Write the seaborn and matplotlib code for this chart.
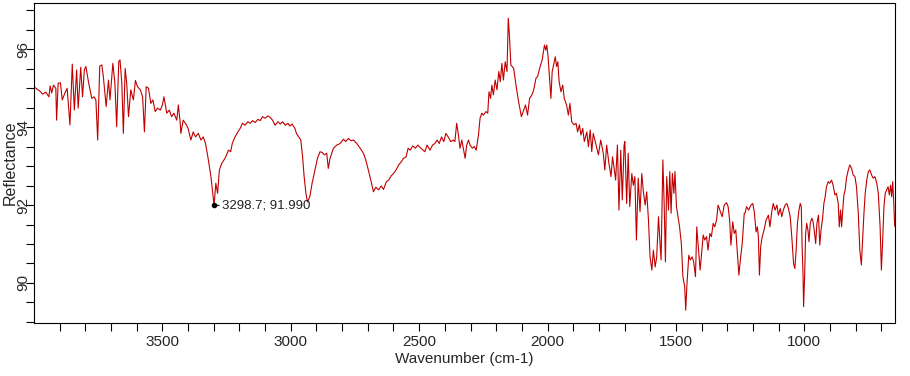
import matplotlib
matplotlib.use('Agg')
import matplotlib.pyplot as plt
import seaborn as sns
import pandas as pd
from matplotlib.ticker import MultipleLocator, FixedLocator

# IR spectrum, values

wavenumber = [
    3997, 3978, 3966, 3954, 3942, 3937, 3931, 3924, 3915, 3912, 3906, 3897, 3890, 3880, 3871, 3860,
    3851, 3843, 3834, 3828, 3818, 3811, 3804, 3798, 3787, 3775, 3766, 3759, 3752, 3744, 3736, 3730,
    3719, 3710, 3704, 3693, 3685, 3678, 3670, 3665, 3658, 3652, 3645, 3639, 3632, 3623, 3613, 3605,
    3597, 3586, 3577, 3570, 3563, 3554, 3545, 3537, 3528, 3519, 3508, 3500, 3494, 3483, 3473, 3464,
    3455, 3444, 3438, 3431,
    3428, 3419, 3410, 3400, 3389, 3380, 3371, 3360, 3350, 3341, 3332, 3321, 3311, 3298.7, 3292, 3285,
    3278, 3269, 3260, 3253, 3243, 3234, 3228, 3217, 3206, 3197, 3188, 3178, 3167, 3158, 3149, 3139,
    3128, 3119, 3110, 3100, 3089, 3080, 3071, 3061, 3050, 3041, 3032, 3021, 3011, 3004, 2995, 2984,
    2978, 2969, 2961, 2954, 2948, 2941, 2935, 2926, 2917, 2906, 2896, 2886, 2877, 2870, 2860, 2854,
    2847, 2834, 2821, 2808, 2795, 2786, 2776, 2765, 2756, 2743, 2730, 2717, 2708, 2698, 2687, 2678,
    2669, 2658, 2648, 2639, 2628, 2619, 2609, 2600, 2590, 2580, 2570, 2561, 2551, 2543, 2535, 2525,
    2515, 2505, 2497, 2488,
    2478, 2469, 2458, 2448, 2439, 2430, 2422, 2413, 2404, 2396, 2387, 2377, 2367, 2361, 2354, 2348,
    2341, 2334, 2328, 2321, 2315, 2308, 2302, 2293, 2285, 2278, 2269, 2263, 2256, 2250, 2240, 2233,
    2228, 2222, 2217, 2211, 2204, 2197, 2190, 2184, 2178, 2172, 2165, 2158, 2153, 2148, 2143, 2132,
    2123, 2113, 2102, 2093, 2086, 2078, 2070, 2061, 2054, 2045, 2039, 2031, 2021, 2012, 2007, 2003,
    1998, 1991, 1987, 1982, 1975, 1970, 1965, 1960, 1955, 1948, 1941, 1935, 1926, 1919, 1913, 1906,
    1897, 1889, 1883, 1876, 1870, 1863, 1857, 1847, 1841, 1834, 1828, 1822, 1811, 1802,
    1793, 1783, 1777, 1770, 1761, 1753, 1747, 1740, 1735, 1728, 1722, 1715, 1709, 1702, 1699, 1692,
    1686, 1680, 1672, 1666, 1660, 1654, 1647, 1640, 1633, 1627, 1620, 1614, 1607, 1601, 1594, 1588,
    1581, 1575, 1568, 1562, 1558, 1551, 1546, 1541, 1536, 1529, 1524, 1519, 1514, 1508, 1504, 1498,
    1492, 1486, 1479, 1473, 1466, 1462, 1457, 1450, 1444, 1437, 1431, 1424, 1419, 1412, 1406, 1399,
    1394, 1388, 1381, 1375, 1368, 1362, 1355, 1349, 1342, 1336, 1329, 1320, 1312, 1303, 1297, 1291,
    1286, 1279, 1273, 1267, 1260, 1255, 1248, 1242, 1234,
    1231, 1225, 1217, 1208, 1201, 1195, 1188, 1183, 1179, 1175, 1170, 1164, 1157, 1149, 1140, 1134,
    1127, 1121, 1114, 1107, 1101, 1094, 1088, 1082, 1075, 1068, 1062, 1055, 1049, 1042, 1037, 1032,
    1027, 1021, 1016, 1012, 1009, 1005, 1003, 999, 995, 991, 986, 982, 977, 971, 966, 960,
    956, 951, 945, 940, 935, 929, 924, 919, 914, 907, 901, 894, 888, 881, 875, 868,
    864, 859, 855, 851, 846, 841, 836, 829, 823, 816, 810, 803, 797, 790, 784, 778,
    773, 768, 763, 757, 751, 745, 738, 732, 725, 718, 712, 705, 700, 695, 690, 685,
    679, 674, 669, 664, 660, 656, 652, 649, 647,
]

reflectance = [
    95.02, 94.93, 94.85, 94.90, 94.78, 95.06, 94.88, 95.08, 95.00, 94.18, 95.13, 95.14, 94.70, 94.87, 95.00, 94.06,
    95.62, 94.44, 95.47, 94.49, 95.54, 94.78, 95.47, 95.56, 95.13, 94.74, 94.78, 94.70, 93.67, 95.57, 95.60, 95.30,
    94.53, 95.21, 94.70, 95.64, 95.13, 94.01, 95.68, 95.73, 95.13, 93.84, 95.51, 95.13, 94.27, 94.96, 94.70, 95.20,
    95.04, 94.96, 94.78, 93.88, 95.04, 95.00, 94.61, 94.70, 94.40, 94.49, 94.44, 94.57, 94.78, 94.36, 94.44, 94.27,
    94.36, 94.18, 94.57, 94.14,
    93.84, 94.18, 94.10, 93.97, 93.67, 93.88, 93.75, 93.84, 93.67, 93.75, 93.58, 93.16, 92.73, 91.99, 92.56, 92.30,
    92.90, 93.07, 93.16, 93.24, 93.41, 93.37, 93.58, 93.75, 93.88, 93.97, 94.10, 94.05, 94.14, 94.10, 94.17, 94.12,
    94.20, 94.17, 94.27, 94.23, 94.29, 94.25, 94.18, 94.05, 94.14, 94.08, 94.14, 94.05, 94.10, 94.03, 94.08, 93.97,
    93.84, 93.75, 93.67, 93.24, 92.73, 92.30, 92.08, 92.21, 92.56, 92.90, 93.20, 93.37, 93.35, 93.29, 93.33, 92.94,
    93.20, 93.46, 93.54, 93.58, 93.69, 93.63, 93.71, 93.65, 93.67, 93.58, 93.46, 93.33, 93.16, 92.90, 92.60, 92.34,
    92.46, 92.39, 92.49, 92.40, 92.60, 92.64, 92.75, 92.81, 92.90, 93.03, 93.11, 93.20, 93.24, 93.46, 93.41, 93.52,
    93.46, 93.54, 93.48, 93.43,
    93.37, 93.54, 93.41, 93.54, 93.58, 93.67, 93.58, 93.75, 93.63, 93.84, 93.75, 93.63, 93.67, 93.63, 94.10, 93.84,
    93.46, 93.67, 93.46, 93.20, 93.54, 93.67, 93.54, 93.46, 93.50, 93.41, 93.80, 94.23, 94.36, 94.31, 94.40, 94.36,
    94.91, 94.74, 95.08, 94.83, 95.21, 94.96, 95.43, 95.17, 95.64, 95.21, 95.68, 95.43, 96.80, 96.29, 95.60, 95.51,
    95.08, 94.66, 94.27, 94.44, 94.57, 94.31, 94.74, 94.83, 94.96, 95.26, 95.30, 95.51, 95.73, 96.11, 95.98, 96.11,
    95.81, 95.13, 94.74, 95.43, 95.64, 95.81, 95.56, 95.68, 95.17, 94.91, 95.08, 94.74, 94.57, 94.31, 94.61, 94.14,
    94.06, 94.10, 93.88, 94.06, 93.80, 93.97, 93.63, 93.88, 93.50, 93.93, 93.37, 93.84, 93.54, 93.29,
    93.67, 93.33, 92.90, 93.54, 93.07, 92.73, 93.24, 92.90, 92.64, 93.54, 91.87, 93.41, 92.13, 93.54, 93.63, 92.04,
    93.33, 91.96, 92.81, 92.51, 92.73, 91.10, 92.69, 91.83, 92.81, 92.34, 92.00, 92.34, 91.61, 90.67, 90.33, 90.84,
    90.41, 90.67, 91.70, 91.01, 90.59, 93.16, 92.04, 90.54, 92.73, 91.87, 92.86, 91.79, 92.81, 92.30, 92.86, 91.96,
    91.70, 91.44, 91.01, 90.16, 89.90, 89.30, 89.99, 90.71, 90.59, 90.67, 90.54, 90.16, 91.44, 90.84, 90.33, 90.84,
    91.23, 91.10, 91.19, 90.84, 91.27, 91.19, 91.53, 91.44, 91.61, 92.00, 91.87, 91.70, 92.00, 92.06, 91.96, 91.61,
    90.97, 91.57, 91.27, 91.36, 90.67, 90.20, 90.67, 91.01, 91.79,
    91.79, 91.96, 91.87, 92.00, 92.04, 91.83, 91.31, 91.44, 91.19, 90.20, 90.93, 91.19, 91.36, 91.61, 91.74, 91.44,
    91.83, 92.04, 91.87, 92.00, 91.74, 91.91, 91.70, 91.87, 92.00, 92.04, 91.91, 91.70, 91.19, 90.50, 90.37, 90.84,
    91.53, 91.87, 92.04, 91.96, 91.01, 90.16, 89.39, 90.16, 91.27, 91.53, 91.36, 91.06, 91.53, 91.66, 91.57, 91.27,
    91.01, 91.53, 91.74, 90.97, 91.36, 91.66, 92.04, 92.21, 92.47, 92.60, 92.56, 92.64, 92.51, 92.26, 92.30, 92.04,
    91.44, 91.87, 91.44, 91.83, 92.26, 92.39, 92.69, 92.90, 93.03, 92.94, 92.77, 92.73, 92.47, 91.79, 90.84, 90.46,
    91.10, 91.79, 92.30, 92.64, 92.86, 92.90, 92.77, 92.69, 92.73, 92.56, 92.30, 91.44, 90.33, 91.10, 91.96, 92.30,
    92.39, 92.47, 92.26, 92.51, 92.21, 92.60, 92.10, 91.57, 91.44,
]

peak_label = '3298.7; 91.990'
x_major = [3500, 3000, 2500, 2000, 1500, 1000]
x_minor = list(range(3900, 600, -100))

df = pd.DataFrame({'Wavenumber (cm-1)': wavenumber, 'Reflectance': reflectance})

sns.set_theme(style='ticks')
plt.rcParams['font.family'] = ['Liberation Sans', 'DejaVu Sans']

fig = plt.figure(figsize=(9.1, 3.76), dpi=100)
ax = fig.add_axes([34 / 910, 53 / 376, 861 / 910, 320 / 376])

sns.lineplot(data=df, x='Wavenumber (cm-1)', y='Reflectance', ax=ax,
             color='#c00000', linewidth=0.8, estimator=None)

# marked peak
ax.plot([3298.7], [91.99], marker='o', markersize=3, color='black', zorder=5)
ax.annotate(peak_label, xy=(3298.7, 91.99), xytext=(6, 0), textcoords='offset points',
            ha='left', va='center', fontsize=9.5, color='#222222',
            arrowprops=dict(arrowstyle='-', color='black', lw=0.8, shrinkA=0, shrinkB=0))

ax.set_xlim(4000, 647)
ax.set_ylim(88.97, 97.19)

ax.xaxis.set_major_locator(FixedLocator(x_major))
ax.xaxis.set_minor_locator(FixedLocator(x_minor))
ax.yaxis.set_major_locator(MultipleLocator(2))
ax.yaxis.set_minor_locator(MultipleLocator(0.5))
ax.tick_params(which='both', direction='out', length=6, width=0.8, color='black')
ax.tick_params(axis='x', labelsize=11, pad=3)
ax.tick_params(axis='y', labelsize=11, pad=-3)
plt.setp(ax.get_yticklabels(), rotation=90, va='center')

for s in ax.spines.values():
    s.set_visible(True)
    s.set_color('black')
    s.set_linewidth(0.8)

ax.set_xlabel('Wavenumber (cm-1)', fontsize=11, labelpad=2)
ax.set_ylabel('Reflectance', fontsize=11.5)
ax.yaxis.set_label_coords(-0.0186, 0.5)

fig.savefig('out.png', dpi=100)
print('done')
